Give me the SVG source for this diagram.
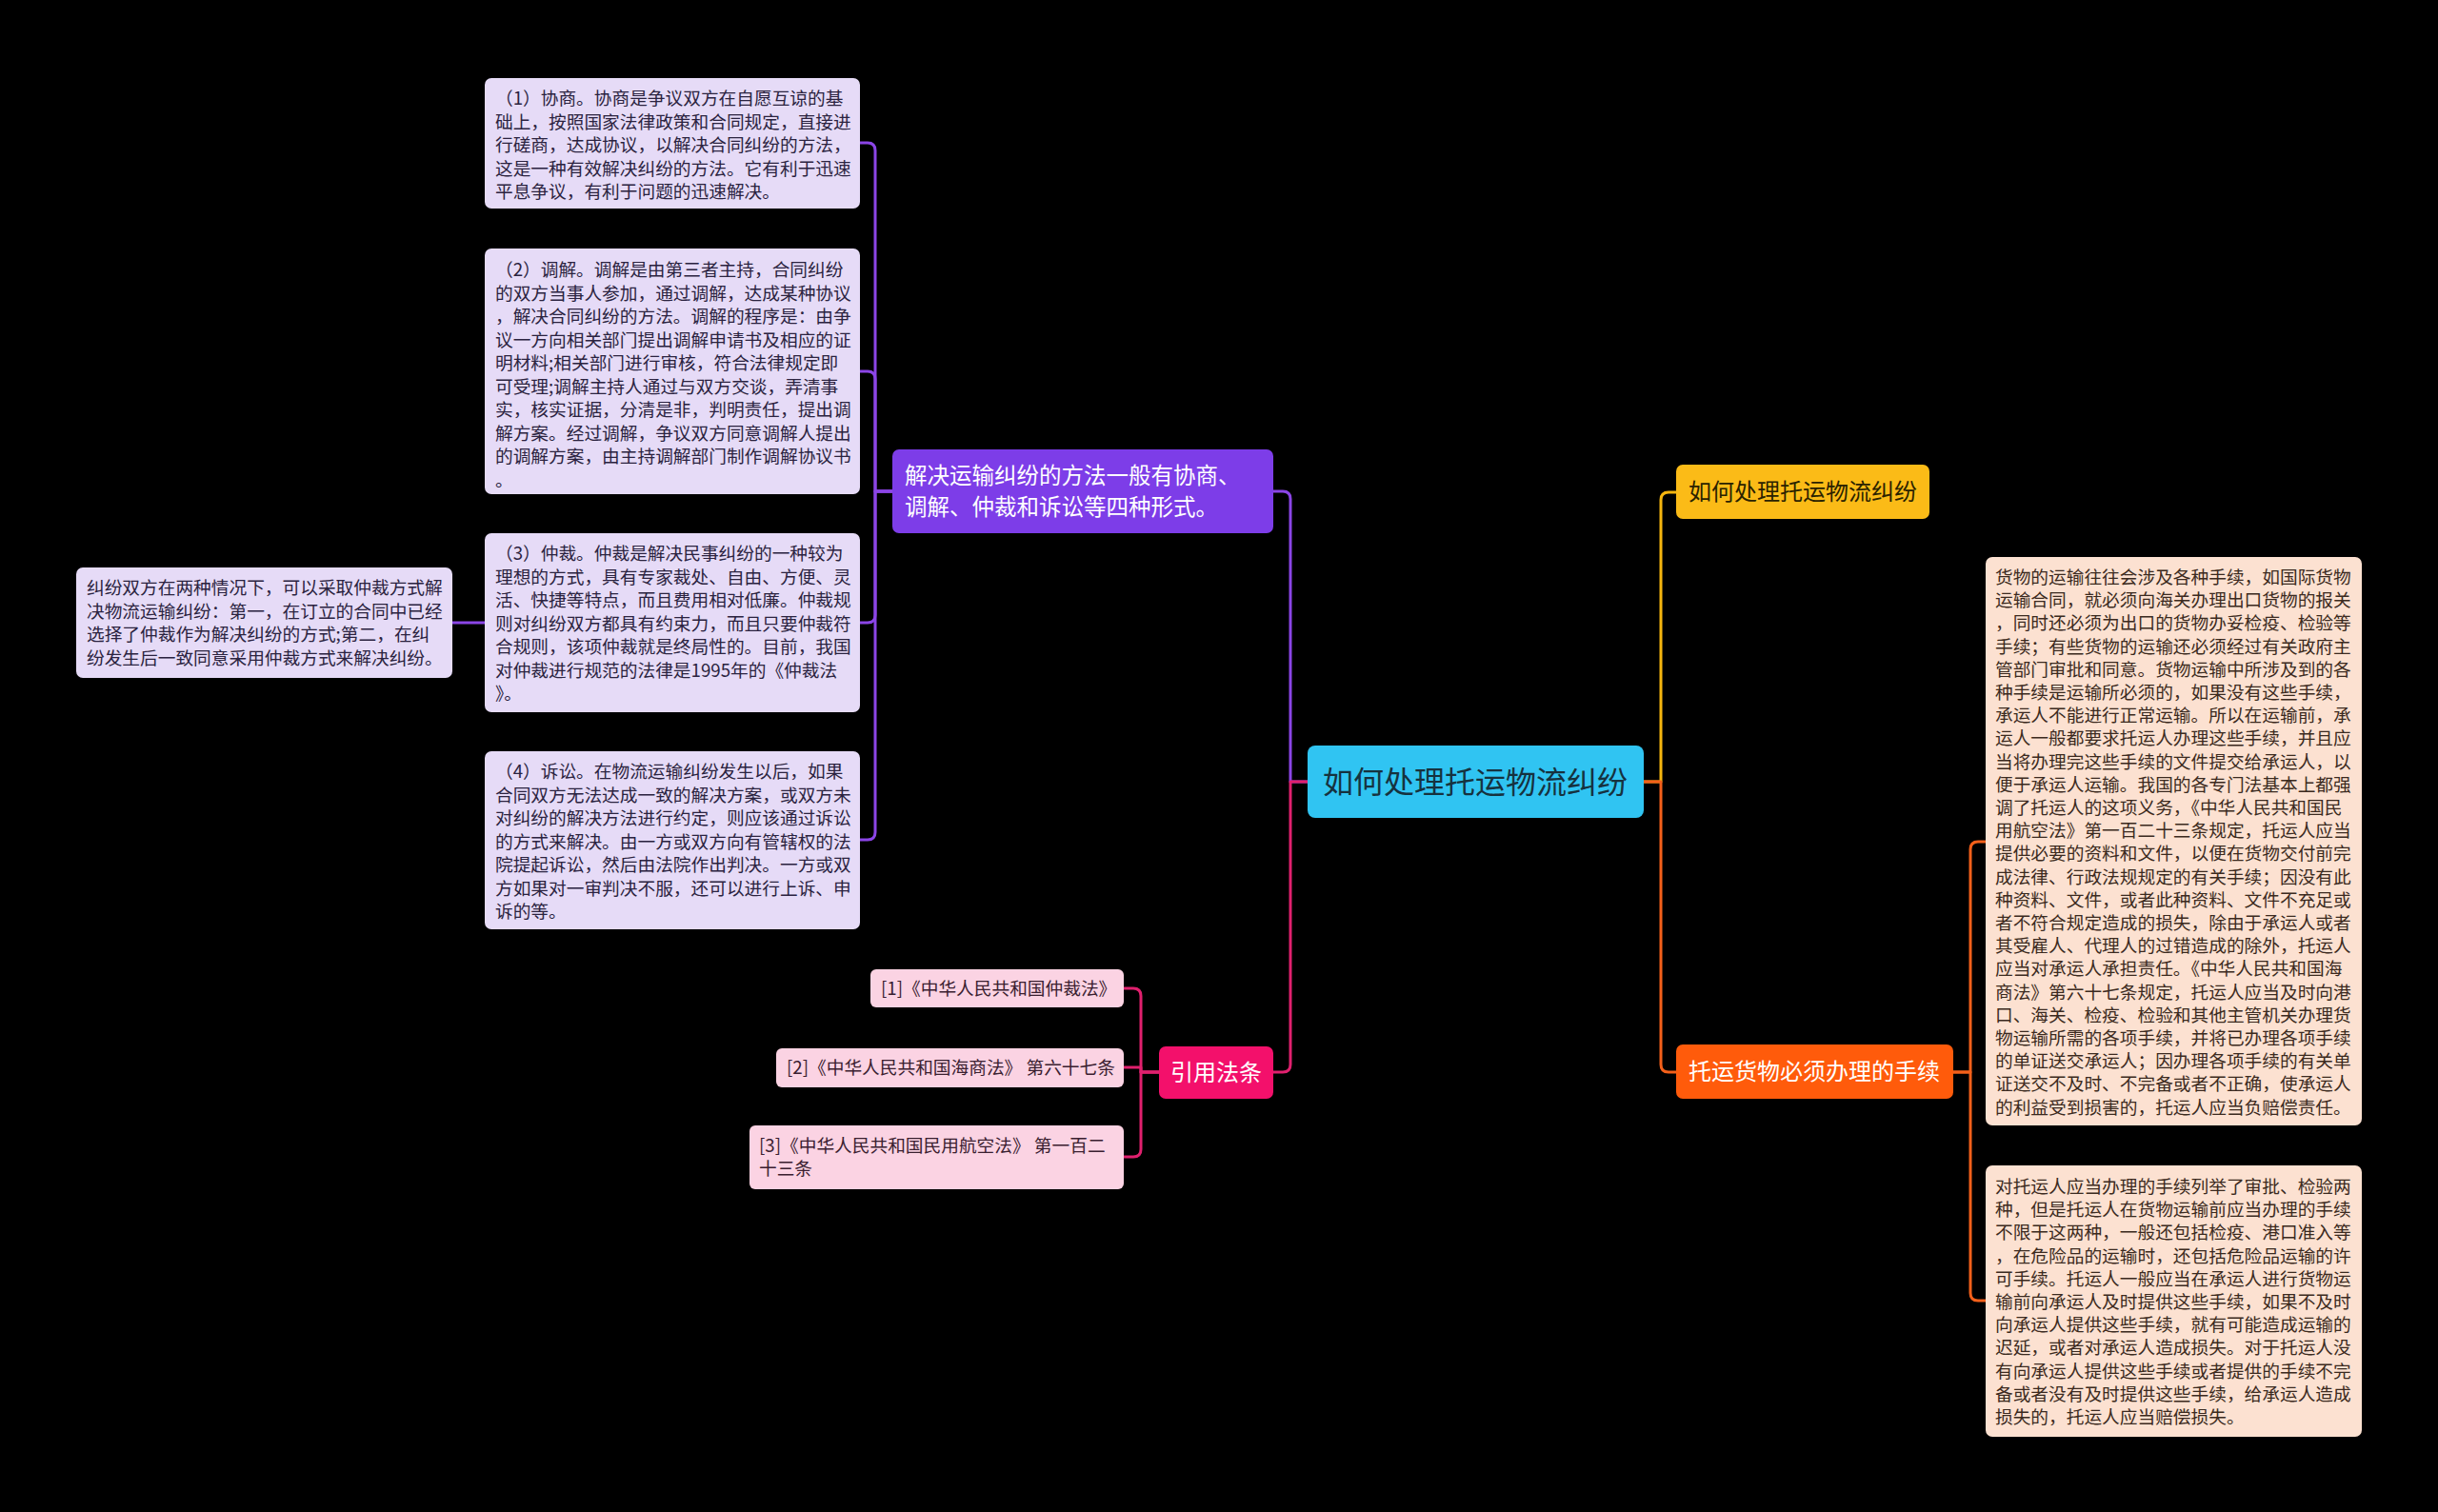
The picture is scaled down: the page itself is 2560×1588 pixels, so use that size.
<svg xmlns="http://www.w3.org/2000/svg" width="2560" height="1588" viewBox="0 0 2560 1588">
<style>
text{font-family:"Noto Sans CJK SC","Noto Sans",sans-serif;}
.lav{fill:#E6DBF7;}
.pch{fill:#FCE1D1;}
.cit{fill:#FBD3E3;}
.t18l{font-size:18.7px;fill:#2B2340;}
.t18r{font-size:18.7px;fill:#3B2A20;}
.t18c{font-size:18.7px;fill:#3A2030;}
.ln{fill:none;stroke-width:3;stroke-linecap:round;stroke-linejoin:round;}
.lp{stroke:#8B45E6;}
.lk{stroke:#E0206E;}
.ly{stroke:#F5B50F;}
.lo{stroke:#F4601A;}
</style>
<rect x="0" y="0" width="2560" height="1588" fill="#000000"/>

<g id="connectors">
  <path class="ln lp" d="M1373,821 H1355 V524 Q1355,516 1347,516 H1337"/>
  <path class="ln lk" d="M1373,821 H1355 V1118 Q1355,1126 1347,1126 H1337"/>
  <path class="ln ly" d="M1726,821 H1744 V525 Q1744,517 1752,517 H1760"/>
  <path class="ln lo" d="M1726,821 H1744 V1118 Q1744,1126 1752,1126 H1760"/>
  <path class="ln lo" d="M2051,1126 H2069 V892 Q2069,884 2077,884 H2085"/>
  <path class="ln lo" d="M2051,1126 H2069 V1358 Q2069,1366 2077,1366 H2085"/>
  <path class="ln lp" d="M937,516 H919 V158 Q919,150 911,150 H903"/>
  <path class="ln lp" d="M937,516 H919 V398 Q919,390 911,390 H903"/>
  <path class="ln lp" d="M937,516 H919 V646 Q919,654 911,654 H903"/>
  <path class="ln lp" d="M937,516 H919 V874 Q919,882 911,882 H903"/>
  <path class="ln lp" d="M509,654 H475"/>
  <path class="ln lk" d="M1217,1126 H1198 V1046 Q1198,1038 1190,1038 H1180"/>
  <path class="ln lk" d="M1217,1126 H1198 V1121 H1180"/>
  <path class="ln lk" d="M1217,1126 H1198 V1207 Q1198,1215 1190,1215 H1180"/>
</g>

<g id="root">
  <rect x="1373" y="783" width="353" height="76" rx="8" fill="#30C4F2"/>
  <text x="1389" y="833" style="font-size:32px;fill:#16323F">如何处理托运物流纠纷</text>
</g>

<g id="n-methods">
  <rect x="937" y="472" width="400" height="88" rx="7" fill="#7D3DE8"/>
  <text style="font-size:23.5px;fill:#FFFFFF"><tspan x="950" y="508">解决运输纠纷的方法一般有协商、</tspan><tspan x="950" y="541">调解、仲裁和诉讼等四种形式。</tspan></text>
</g>

<g id="n-title2">
  <rect x="1760" y="488" width="266" height="57" rx="7" fill="#FBBB17"/>
  <text x="1773" y="525" style="font-size:24px;fill:#2A2200">如何处理托运物流纠纷</text>
</g>

<g id="n-procedures">
  <rect x="1760" y="1097" width="291" height="57" rx="7" fill="#FF5B0B"/>
  <text x="1773" y="1134" style="font-size:24px;fill:#FFFFFF">托运货物必须办理的手续</text>
</g>

<g id="n-laws">
  <rect x="1217" y="1099" width="120" height="55" rx="7" fill="#F3106B"/>
  <text x="1229" y="1135" style="font-size:24px;fill:#FFFFFF">引用法条</text>
</g>

<g id="n-law1">
  <rect class="cit" x="914" y="1018" width="266" height="40" rx="6"/>
  <text class="t18c" x="925" y="1045">[1]《中华人民共和国仲裁法》</text>
</g>
<g id="n-law2">
  <rect class="cit" x="815" y="1101" width="365" height="41" rx="6"/>
  <text class="t18c" x="826" y="1128">[2]《中华人民共和国海商法》 第六十七条</text>
</g>
<g id="n-law3">
  <rect class="cit" x="787" y="1182" width="393" height="67" rx="6"/>
  <text class="t18c"><tspan x="797" y="1210">[3]《中华人民共和国民用航空法》 第一百二</tspan><tspan x="797" y="1234">十三条</tspan></text>
</g>

<g id="n-m1">
  <rect class="lav" x="509" y="82" width="394" height="137" rx="7"/>
  <text class="t18l"><tspan x="520" y="110">（1）协商。协商是争议双方在自愿互谅的基</tspan><tspan x="520" dy="24.5">础上，按照国家法律政策和合同规定，直接进</tspan><tspan x="520" dy="24.5">行磋商，达成协议，以解决合同纠纷的方法，</tspan><tspan x="520" dy="24.5">这是一种有效解决纠纷的方法。它有利于迅速</tspan><tspan x="520" dy="24.5">平息争议，有利于问题的迅速解决。</tspan></text>
</g>

<g id="n-m2">
  <rect class="lav" x="509" y="261" width="394" height="258" rx="7"/>
  <text class="t18l"><tspan x="520" y="290">（2）调解。调解是由第三者主持，合同纠纷</tspan><tspan x="520" dy="24.5">的双方当事人参加，通过调解，达成某种协议</tspan><tspan x="520" dy="24.5">，解决合同纠纷的方法。调解的程序是：由争</tspan><tspan x="520" dy="24.5">议一方向相关部门提出调解申请书及相应的证</tspan><tspan x="520" dy="24.5">明材料;相关部门进行审核，符合法律规定即</tspan><tspan x="520" dy="24.5">可受理;调解主持人通过与双方交谈，弄清事</tspan><tspan x="520" dy="24.5">实，核实证据，分清是非，判明责任，提出调</tspan><tspan x="520" dy="24.5">解方案。经过调解，争议双方同意调解人提出</tspan><tspan x="520" dy="24.5">的调解方案，由主持调解部门制作调解协议书</tspan><tspan x="520" dy="24.5">。</tspan></text>
</g>

<g id="n-m3">
  <rect class="lav" x="509" y="560" width="394" height="188" rx="7"/>
  <text class="t18l"><tspan x="520" y="588">（3）仲裁。仲裁是解决民事纠纷的一种较为</tspan><tspan x="520" dy="24.5">理想的方式，具有专家裁处、自由、方便、灵</tspan><tspan x="520" dy="24.5">活、快捷等特点，而且费用相对低廉。仲裁规</tspan><tspan x="520" dy="24.5">则对纠纷双方都具有约束力，而且只要仲裁符</tspan><tspan x="520" dy="24.5">合规则，该项仲裁就是终局性的。目前，我国</tspan><tspan x="520" dy="24.5">对仲裁进行规范的法律是1995年的《仲裁法</tspan><tspan x="520" dy="24.5">》。</tspan></text>
</g>

<g id="n-m4">
  <rect class="lav" x="509" y="789" width="394" height="187" rx="7"/>
  <text class="t18l"><tspan x="520" y="817">（4）诉讼。在物流运输纠纷发生以后，如果</tspan><tspan x="520" dy="24.5">合同双方无法达成一致的解决方案，或双方未</tspan><tspan x="520" dy="24.5">对纠纷的解决方法进行约定，则应该通过诉讼</tspan><tspan x="520" dy="24.5">的方式来解决。由一方或双方向有管辖权的法</tspan><tspan x="520" dy="24.5">院提起诉讼，然后由法院作出判决。一方或双</tspan><tspan x="520" dy="24.5">方如果对一审判决不服，还可以进行上诉、申</tspan><tspan x="520" dy="24.5">诉的等。</tspan></text>
</g>

<g id="n-m3a">
  <rect class="lav" x="80" y="596" width="395" height="116" rx="7"/>
  <text class="t18l"><tspan x="91" y="624">纠纷双方在两种情况下，可以采取仲裁方式解</tspan><tspan x="91" dy="24.5">决物流运输纠纷：第一，在订立的合同中已经</tspan><tspan x="91" dy="24.5">选择了仲裁作为解决纠纷的方式;第二，在纠</tspan><tspan x="91" dy="24.5">纷发生后一致同意采用仲裁方式来解决纠纷。</tspan></text>
</g>

<g id="n-p1">
  <rect class="pch" x="2085" y="585" width="395" height="597" rx="7"/>
  <text class="t18r"><tspan x="2095" y="613">货物的运输往往会涉及各种手续，如国际货物</tspan><tspan x="2095" dy="24.2">运输合同，就必须向海关办理出口货物的报关</tspan><tspan x="2095" dy="24.2">，同时还必须为出口的货物办妥检疫、检验等</tspan><tspan x="2095" dy="24.2">手续；有些货物的运输还必须经过有关政府主</tspan><tspan x="2095" dy="24.2">管部门审批和同意。货物运输中所涉及到的各</tspan><tspan x="2095" dy="24.2">种手续是运输所必须的，如果没有这些手续，</tspan><tspan x="2095" dy="24.2">承运人不能进行正常运输。所以在运输前，承</tspan><tspan x="2095" dy="24.2">运人一般都要求托运人办理这些手续，并且应</tspan><tspan x="2095" dy="24.2">当将办理完这些手续的文件提交给承运人，以</tspan><tspan x="2095" dy="24.2">便于承运人运输。我国的各专门法基本上都强</tspan><tspan x="2095" dy="24.2">调了托运人的这项义务，《中华人民共和国民</tspan><tspan x="2095" dy="24.2">用航空法》第一百二十三条规定，托运人应当</tspan><tspan x="2095" dy="24.2">提供必要的资料和文件，以便在货物交付前完</tspan><tspan x="2095" dy="24.2">成法律、行政法规规定的有关手续；因没有此</tspan><tspan x="2095" dy="24.2">种资料、文件，或者此种资料、文件不充足或</tspan><tspan x="2095" dy="24.2">者不符合规定造成的损失，除由于承运人或者</tspan><tspan x="2095" dy="24.2">其受雇人、代理人的过错造成的除外，托运人</tspan><tspan x="2095" dy="24.2">应当对承运人承担责任。《中华人民共和国海</tspan><tspan x="2095" dy="24.2">商法》第六十七条规定，托运人应当及时向港</tspan><tspan x="2095" dy="24.2">口、海关、检疫、检验和其他主管机关办理货</tspan><tspan x="2095" dy="24.2">物运输所需的各项手续，并将已办理各项手续</tspan><tspan x="2095" dy="24.2">的单证送交承运人；因办理各项手续的有关单</tspan><tspan x="2095" dy="24.2">证送交不及时、不完备或者不正确，使承运人</tspan><tspan x="2095" dy="24.2">的利益受到损害的，托运人应当负赔偿责任。</tspan></text>
</g>

<g id="n-p2">
  <rect class="pch" x="2085" y="1224" width="395" height="285" rx="7"/>
  <text class="t18r"><tspan x="2095" y="1253">对托运人应当办理的手续列举了审批、检验两</tspan><tspan x="2095" dy="24.2">种，但是托运人在货物运输前应当办理的手续</tspan><tspan x="2095" dy="24.2">不限于这两种，一般还包括检疫、港口准入等</tspan><tspan x="2095" dy="24.2">，在危险品的运输时，还包括危险品运输的许</tspan><tspan x="2095" dy="24.2">可手续。托运人一般应当在承运人进行货物运</tspan><tspan x="2095" dy="24.2">输前向承运人及时提供这些手续，如果不及时</tspan><tspan x="2095" dy="24.2">向承运人提供这些手续，就有可能造成运输的</tspan><tspan x="2095" dy="24.2">迟延，或者对承运人造成损失。对于托运人没</tspan><tspan x="2095" dy="24.2">有向承运人提供这些手续或者提供的手续不完</tspan><tspan x="2095" dy="24.2">备或者没有及时提供这些手续，给承运人造成</tspan><tspan x="2095" dy="24.2">损失的，托运人应当赔偿损失。</tspan></text>
</g>
</svg>
